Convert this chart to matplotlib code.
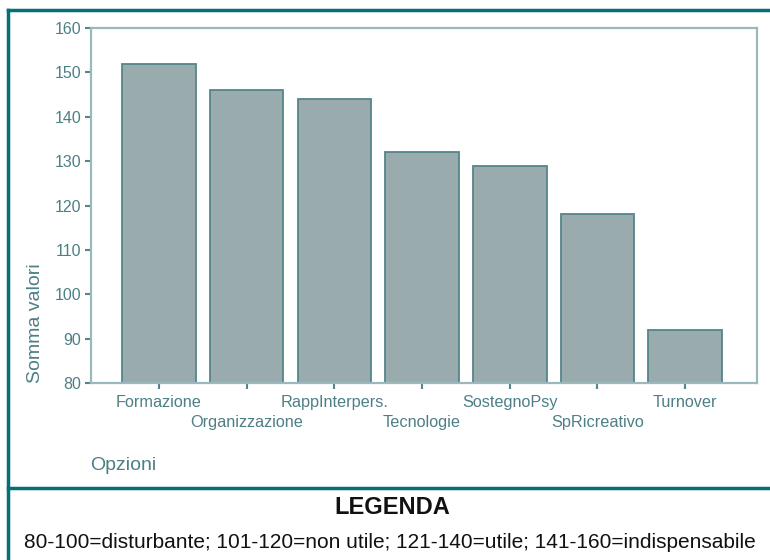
import matplotlib.pyplot as plt
from matplotlib.lines import Line2D

categories = ['Formazione', 'Organizzazione', 'RappInterpers.', 'Tecnologie',
              'SostegnoPsy', 'SpRicreativo', 'Turnover']
values = [152, 146, 144, 132, 129, 118, 92]
y_ticks = [80, 90, 100, 110, 120, 130, 140, 150, 160]

TEAL = '#00707a'
LABEL = '#4d7f85'
SPINE = '#9bb9bc'
BAR_FACE = '#9aabad'
BAR_EDGE = '#55858a'

fig = plt.figure(figsize=(7.7, 5.6), dpi=100)
W, H = 770, 560

ax = fig.add_axes([91 / W, 1 - 383 / H, (757 - 91) / W, (383 - 28) / H])
x = list(range(len(categories)))
ax.bar(x, values, width=0.84, bottom=0, color=BAR_FACE, edgecolor=BAR_EDGE, linewidth=1.3)
ax.set_xlim(-0.775, 6.82)
ax.set_ylim(80, 160)
ax.set_yticks(y_ticks)
ax.set_yticklabels([str(t) for t in y_ticks], fontsize=11.5, color=LABEL,
                   family=['Liberation Sans'])
ax.set_xticks(x)
ax.set_xticklabels([])
ax.tick_params(axis='y', length=4, width=1.5, color=BAR_EDGE, pad=3)
ax.tick_params(axis='x', length=4, width=1.5, color=BAR_EDGE, direction='out')
for spine in ax.spines.values():
    spine.set_color(SPINE)
    spine.set_linewidth(1.6)

# alternating category labels
for i, name in enumerate(categories):
    dy = 20 / H if i % 2 else 0
    ax.text(i, -0.055 - dy * (H / (383 - 28)), name, transform=ax.get_xaxis_transform(),
            ha='center', va='center', fontsize=11.7, color=LABEL, family=['Liberation Sans'])

fig.text(35 / W, 1 - 323 / H, 'Somma valori', rotation=90, ha='center', va='center',
         fontsize=14, color=LABEL, family=['Liberation Sans'])
fig.text(90 / W, 1 - 466 / H, 'Opzioni', ha='left', va='center',
         fontsize=14, color=LABEL, family=['Liberation Sans'])

# outer frame
for xs, ys in [([8, 770], [10, 10]), ([8, 8], [10, 560]), ([8, 770], [488, 488])]:
    fig.add_artist(Line2D([v / W for v in xs], [1 - v / H for v in ys],
                          color=TEAL, linewidth=2.5, transform=fig.transFigure))

fig.text(392 / W, 1 - 508 / H, 'LEGENDA', ha='center', va='center',
         fontsize=17, fontweight='bold', color='#111111', family=['Liberation Sans'])
fig.text(390 / W, 1 - 542 / H,
         '80-100=disturbante; 101-120=non utile; 121-140=utile; 141-160=indispensabile',
         ha='center', va='center', fontsize=15, color='#111111', family=['Liberation Sans'])

fig.savefig('out.png', dpi=100)
